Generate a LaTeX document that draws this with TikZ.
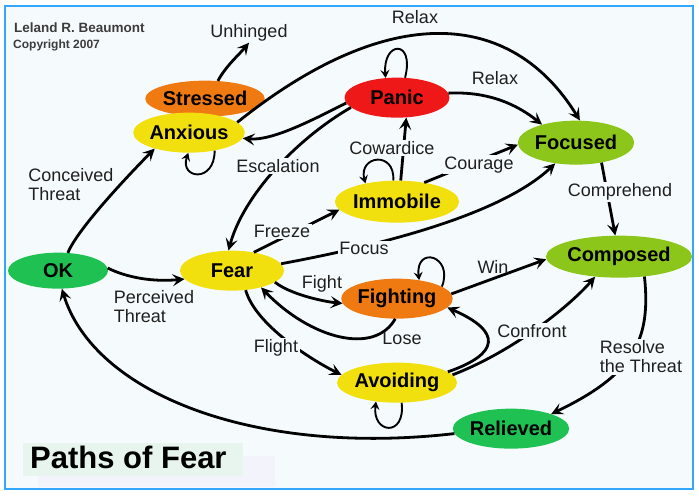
\documentclass[tikz,border=0pt]{standalone}
\usepackage{fontspec}
\setmainfont{Liberation Sans}
\usepackage{tikz}
\usetikzlibrary{shapes.geometric,arrows.meta}

\definecolor{bgpaper}{HTML}{F5FBFC}
\definecolor{framebl}{HTML}{33A6FF}
\definecolor{titlebg}{HTML}{E8F5EE}
\definecolor{titlebgb}{HTML}{F3F4FB}
\definecolor{okgreen}{RGB}{30,193,82}
\definecolor{limegr}{RGB}{140,198,26}
\definecolor{fearyel}{RGB}{242,224,14}
\definecolor{stressor}{RGB}{240,122,18}
\definecolor{panicred}{RGB}{238,24,24}
\definecolor{inkgray}{HTML}{3C3C3C}

\begin{document}
\begin{tikzpicture}[x=1pt,y=-1pt,
    state/.style={ellipse,minimum width=105pt,minimum height=40pt,inner sep=0pt,
        font=\fontsize{20}{22}\selectfont\bfseries},
    lbl/.style={font=\fontsize{18}{19.5}\selectfont,text=black!88,inner sep=1.5pt},
    gap/.style={lbl,fill=bgpaper},
    link/.style={line width=2.8pt,-{Stealth[length=12pt,width=12pt,inset=5pt]}},
    selfloop/.style={line width=1.9pt,-{Stealth[length=8pt,width=9pt,inset=3pt]}}]

    % Frame
    \fill[white] (0,0) rectangle (699,495);
    \draw[framebl,line width=2pt,fill=bgpaper] (5,5) rectangle (693,488);
    \fill[titlebgb] (38,455) rectangle (275,486);
    \fill[titlebg] (23,442) rectangle (243,475);

    % Header and title
    \node[anchor=base west,text=inkgray,font=\fontsize{13.5}{15}\selectfont\bfseries,inner sep=0pt] (author) at (14,32) {Leland R. Beaumont};
    \node[anchor=base west,text=inkgray,font=\fontsize{12}{14}\selectfont\bfseries,inner sep=0pt] (copyright) at (13,48) {Copyright 2007};
    \node[anchor=base west,font=\fontsize{31}{34}\selectfont\bfseries,inner sep=0pt] (title) at (30,468) {Paths of Fear};

    % States
    \node[state,fill=okgreen,minimum width=100pt,minimum height=36pt] (ok) at (58,270) {OK};
    \node[state,fill=fearyel,minimum width=104pt] (fear) at (232,270) {Fear};
    \node[state,fill=stressor,minimum height=36pt] (stressed) at (205,98) {Stressed};
    \node[state,fill=fearyel,minimum width=104pt] (anxious) at (189,132) {Anxious};
    \node[state,fill=panicred] (panic) at (397,97) {Panic};
    \node[state,fill=fearyel,minimum height=42pt] (immobile) at (397,201) {Immobile};
    \node[state,fill=limegr,minimum width=112pt,minimum height=44pt] (focused) at (576,142) {Focused};
    \node[state,fill=limegr,minimum width=112pt,minimum height=42pt] (composed) at (619,256) {Composed};
    \node[state,fill=stressor] (fighting) at (397,298) {Fighting};
    \node[state,fill=fearyel] (avoiding) at (397,382) {Avoiding};
    \node[state,fill=okgreen,minimum width=104pt] (relieved) at (511,428) {Relieved};
    \node[lbl] (unhinged) at (249,32) {Unhinged};

    % Paths
    \draw[link] (ok.61) .. controls +(10,-25) and +(-20,20) .. (anxious.205);
    \draw[link] (ok.3) .. controls +(20,10) and +(-30,3) .. (fear.190);
    \draw[link] (relieved.185) .. controls +(-200,23) and +(32,105) .. (ok.282);
    \draw[link] (stressed.54) .. controls +(8,-15) and +(-10,12) .. (unhinged.south);
    \draw[link] (anxious.12) .. controls +(151,-121) and +(-69,-112) .. (focused.80);
    \draw[link] (panic.186) .. controls +(-30,15) and +(30,3) .. (anxious.354);
    \draw[link] (panic.192) .. controls +(-55,32) and +(15,-55) .. (fear.100);
    \draw[link] (panic.5) .. controls +(40,-2) and +(-25,-20) .. (focused.152);
    \draw[link] (immobile.80) -- (panic.295);
    \draw[link] (immobile.35) -- (focused.182);
    \draw[link] (fear.40) -- (immobile.188);
    \draw[link] (fear.8) .. controls +(97,-18) and +(-55,52) .. (focused.225);
    \draw[link] (fear.345) .. controls +(15,12) and +(-20,-2) .. (fighting.185);
    \draw[link] (fighting.265) .. controls +(-21,37) and +(49,51) .. (fear.330);
    \draw[link] (fighting.5) -- (composed.182);
    \draw[link] (fear.305) .. controls +(10,35) and +(-30,-15) .. (avoiding.172);
    \draw[link] (avoiding.12) .. controls +(52,-18) and +(55,24) .. (fighting.350);
    \draw[link] (avoiding.8) .. controls +(60,-23) and +(-26,30) .. (composed.220);
    \draw[link] (focused.322) -- (composed.100);
    \draw[link] (composed.322) .. controls +(7,65) and +(81,-39) .. (relieved.20);

    % Self loops
    \draw[selfloop] (panic.68) .. controls +(10,-39) and +(-3,-37) .. (panic.120);
    \draw[selfloop] (immobile.100) .. controls +(2,-30) and +(-7,-28) .. (immobile.150);
    \draw[selfloop] (fighting.15) .. controls +(12,-31) and +(-4,-35) .. (fighting.40);
    \draw[selfloop] (avoiding.283) .. controls +(4,35) and +(-4,32) .. (avoiding.222);
    \draw[selfloop] (anxious.325) .. controls +(0,33) and +(-9,26) .. (anxious.268);

    % Labels
    \node[lbl,align=left] (conceived) at (71,184) {Conceived\\Threat};
    \node[lbl,align=left] (perceived) at (154,306) {Perceived\\Threat};
    \node[lbl] (relaxtop) at (415,16) {Relax};
    \node[lbl] (relaxpanic) at (495,77) {Relax};
    \node[gap] (escalation) at (278,165) {Escalation};
    \node[gap] (cowardice) at (392,147) {Cowardice};
    \node[gap] (courage) at (479,164) {Courage};
    \node[gap] (freeze) at (282,231) {Freeze};
    \node[gap] (focus) at (364,248) {Focus};
    \node[lbl] (fight) at (322,283) {Fight};
    \node[lbl] (lose) at (402,338) {Lose};
    \node[gap] (flight) at (276,347) {Flight};
    \node[lbl] (win) at (493,266) {Win};
    \node[gap] (confront) at (532,330) {Confront};
    \node[gap] (comprehend) at (620,191) {Comprehend};
    \node[gap,align=left] (resolve) at (641,356) {Resolve\\the Threat};
\end{tikzpicture}
\end{document}
